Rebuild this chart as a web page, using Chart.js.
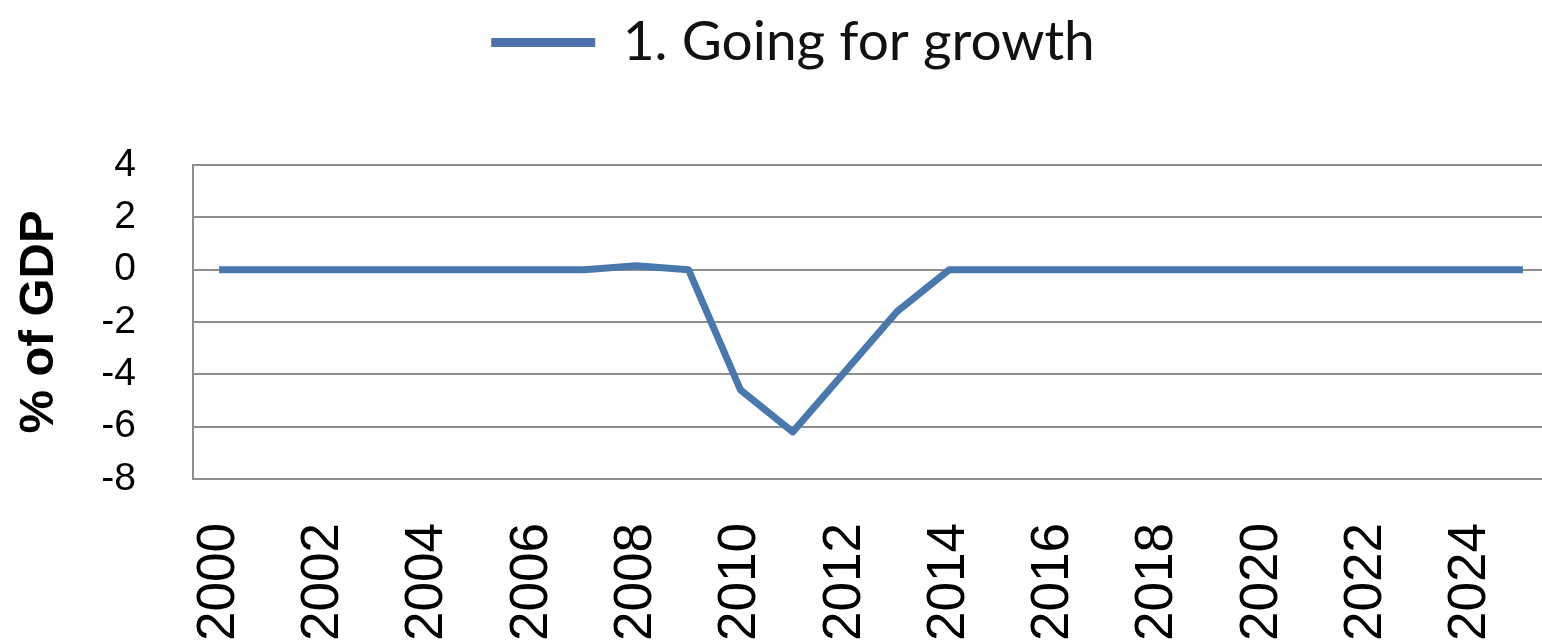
<!DOCTYPE html>
<html>
<head>
<meta charset="utf-8">
<script src="https://cdn.jsdelivr.net/npm/chart.js@4"></script>
<style>
  html, body { margin: 0; padding: 0; background: #fff; overflow: hidden; }
  #wrap { width: 1586px; height: 641px; }
</style>
</head>
<body>
<div id="wrap"><canvas id="gdpChart"></canvas></div>
<script>
// Years 2000..2025 and the scenario path (% of GDP)
const years = ['2000', '2001', '2002', '2003', '2004', '2005', '2006', '2007', '2008', '2009',
  '2010', '2011', '2012', '2013', '2014', '2015', '2016', '2017', '2018', '2019',
  '2020', '2021', '2022', '2023', '2024', '2025'];
const goingForGrowth = [0, 0, 0, 0, 0, 0, 0, 0, 0.15, 0,
  -4.6, -6.2, -3.9, -1.6, 0, 0, 0, 0, 0, 0,
  0, 0, 0, 0, 0, 0];
const seriesName = '1. Going for growth';
const yTitle = '% of GDP';

const gridGrey = '#8e8e8e';
const lineBlue = '#4878ae';

// make room between the legend and the plot
const legendHeight = {
  id: 'legendHeight',
  beforeInit(chart) {
    const fit = chart.legend.fit;
    chart.legend.fit = function () {
      fit.bind(chart.legend)();
      this.height = 165;
    };
  }
};

const ctx = document.getElementById('gdpChart').getContext('2d');
new Chart(ctx, {
  type: 'line',
  data: {
    labels: years,
    datasets: [{
      label: seriesName,
      data: goingForGrowth,
      borderColor: lineBlue,
      backgroundColor: lineBlue,
      borderWidth: 7,
      borderJoinStyle: 'round',
      pointRadius: 0,
      tension: 0,
      yAxisID: 'y'
    }]
  },
  options: {
    responsive: true,
    maintainAspectRatio: false,
    animation: false,
    layout: { padding: 0 },
    plugins: {
      tooltip: { enabled: false },
      legend: {
        position: 'top',
        labels: {
          usePointStyle: true,
          pointStyle: 'line',
          pointStyleWidth: 104,
          padding: 15,
          color: '#111',
          font: { family: 'Lato', size: 55 },
          generateLabels(chart) {
            const items = Chart.defaults.plugins.legend.labels.generateLabels(chart);
            items.forEach(it => { it.lineWidth = 9; it.strokeStyle = '#4d72ad'; });
            return items;
          }
        }
      }
    },
    scales: {
      x: {
        offset: true,
        grid: { display: false, drawTicks: false },
        border: { color: gridGrey, width: 2 },
        afterFit(scale) {
          scale.height = 162;
          scale.paddingLeft = 0;
          scale.paddingRight = 0;
        },
        ticks: {
          autoSkip: false,
          minRotation: 90,
          maxRotation: 90,
          padding: 44,
          color: '#000',
          font: { family: 'Liberation Sans', size: 53 },
          callback(value, index) {
            return index % 2 === 0 ? years[index] : '';
          }
        }
      },
      y: {
        position: 'left',
        min: -8,
        max: 4,
        afterFit(scale) { scale.width = 193; },
        grid: { color: gridGrey, lineWidth: 2, drawTicks: false },
        border: { color: gridGrey, width: 2 },
        ticks: {
          stepSize: 2,
          padding: 57,
          color: '#000',
          font: { family: 'Liberation Sans', size: 39 }
        },
        title: {
          display: true,
          text: yTitle,
          color: '#000',
          padding: { top: 10, bottom: 0 },
          font: { family: 'Liberation Sans', size: 49, weight: 'bold' }
        }
      },
      y2: {
        position: 'right',
        min: -8,
        max: 4,
        afterFit(scale) { scale.width = 37; },
        grid: { display: false, drawTicks: false },
        border: { display: false },
        ticks: { display: false }
      }
    }
  },
  plugins: [legendHeight]
});
</script>
</body>
</html>
